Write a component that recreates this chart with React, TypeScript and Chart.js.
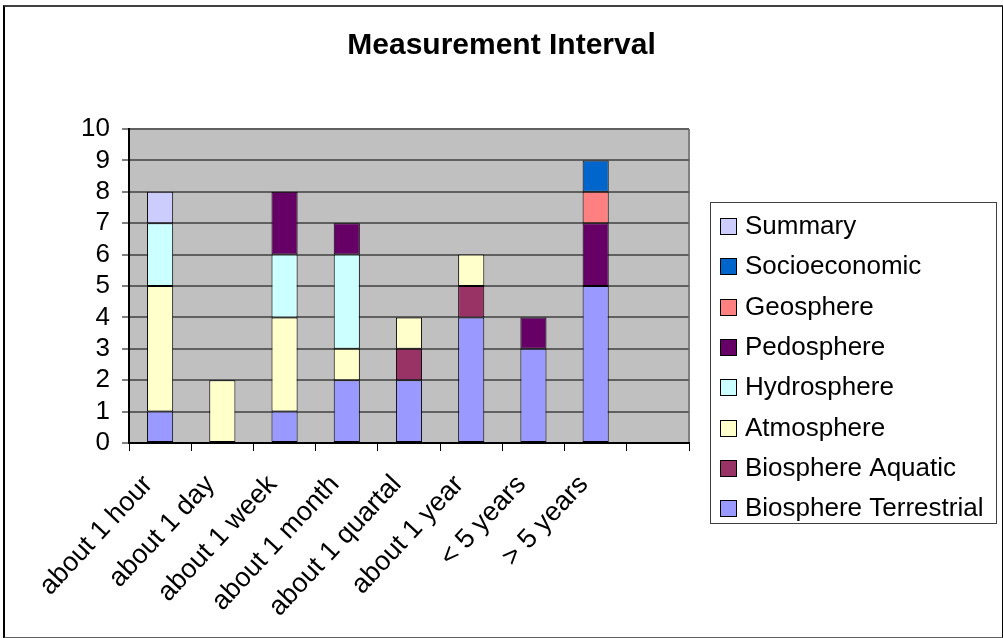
import React, { useEffect, useRef } from "react";
import { Chart, registerables } from "chart.js";

Chart.register(...registerables);

// Measurement interval categories (last slot is an empty category)
const categories = [
  "about 1 hour",
  "about 1 day",
  "about 1 week",
  "about 1 month",
  "about 1 quartal",
  "about 1 year",
  "< 5 years",
  "> 5 years",
  "",
];

const seriesNames = [
  "Biosphere Terrestrial",
  "Biosphere Aquatic",
  "Atmosphere",
  "Hydrosphere",
  "Pedosphere",
  "Geosphere",
  "Socioeconomic",
  "Summary",
];

const biosphereTerrestrial = [1, 0, 1, 2, 2, 4, 3, 5, 0];
const biosphereAquatic = [0, 0, 0, 0, 1, 1, 0, 0, 0];
const atmosphere = [4, 2, 3, 1, 1, 1, 0, 0, 0];
const hydrosphere = [2, 0, 2, 3, 0, 0, 0, 0, 0];
const pedosphere = [0, 0, 2, 1, 0, 0, 1, 2, 0];
const geosphere = [0, 0, 0, 0, 0, 0, 0, 1, 0];
const socioeconomic = [0, 0, 0, 0, 0, 0, 0, 1, 0];
const summary = [1, 0, 0, 0, 0, 0, 0, 0, 0];

const seriesValues = [
  biosphereTerrestrial,
  biosphereAquatic,
  atmosphere,
  hydrosphere,
  pedosphere,
  geosphere,
  socioeconomic,
  summary,
];

const seriesColors = [
  "#9999FF",
  "#993366",
  "#FFFFCC",
  "#CCFFFF",
  "#660066",
  "#FF8080",
  "#0066CC",
  "#CCCCFF",
];

const yTicks = [0, 1, 2, 3, 4, 5, 6, 7, 8, 9, 10];

const FONT = "'Liberation Sans', Arial, sans-serif";

// Grey plot background with a thin grey frame on the right
const plotBackground = {
  id: "plotBackground",
  beforeDraw(chart: any) {
    const { ctx, chartArea } = chart;
    ctx.save();
    ctx.fillStyle = "#C0C0C0";
    ctx.fillRect(chartArea.left, chartArea.top, chartArea.right - chartArea.left, chartArea.bottom - chartArea.top);
    ctx.strokeStyle = "#808080";
    ctx.lineWidth = 2;
    ctx.beginPath();
    ctx.moveTo(chartArea.right, chartArea.top);
    ctx.lineTo(chartArea.right, chartArea.bottom);
    ctx.stroke();
    ctx.restore();
  },
};

// Boxed legend on the right, listed top series first
const boxedLegend = {
  id: "boxedLegend",
  afterDraw(chart: any) {
    const { ctx } = chart;
    const left = 710;
    const top = 202;
    const width = 286;
    const height = 321;
    ctx.save();
    ctx.fillStyle = "#FFFFFF";
    ctx.fillRect(left, top, width, height);
    ctx.strokeStyle = "#404040";
    ctx.lineWidth = 1;
    ctx.strokeRect(left + 0.5, top + 0.5, width, height);
    const datasets = chart.data.datasets.slice().reverse();
    ctx.font = `26px ${FONT}`;
    ctx.textBaseline = "middle";
    ctx.textAlign = "left";
    datasets.forEach((ds: any, i: number) => {
      const cy = Math.round(226 + i * 40.3);
      ctx.fillStyle = ds.backgroundColor;
      ctx.fillRect(720, cy - 8, 16, 16);
      ctx.strokeStyle = "#000000";
      ctx.strokeRect(720.5, cy - 7.5, 16, 16);
      ctx.fillStyle = "#000000";
      ctx.fillText(ds.label, 745, cy + 1);
    });
    ctx.restore();
  },
};

export default function App() {
  const canvasRef = useRef<HTMLCanvasElement | null>(null);

  useEffect(() => {
    if (!canvasRef.current) return;
    const chart = new Chart(canvasRef.current, {
      type: "bar",
      data: {
        labels: categories,
        datasets: seriesNames.map((name, i) => ({
          label: name,
          data: seriesValues[i].map((v) => (v === 0 ? null : v)),
          backgroundColor: seriesColors[i],
          borderColor: "#000000",
          borderWidth: 1,
          borderSkipped: false,
          categoryPercentage: 1,
          barPercentage: 0.42,
        })),
      },
      options: {
        animation: false,
        responsive: false,
        maintainAspectRatio: false,
        layout: { padding: 0 },
        plugins: {
          legend: { display: false },
          tooltip: { enabled: false },
          title: {
            display: true,
            text: "Measurement Interval",
            color: "#000000",
            font: { family: FONT, size: 30, weight: "bold", lineHeight: 1.2 },
            padding: { top: 28, bottom: 65 },
          },
        },
        scales: {
          x: {
            stacked: true,
            offset: true,
            grid: {
              display: true,
              drawOnChartArea: false,
              drawTicks: true,
              offset: true,
              tickLength: 8,
              tickColor: "#000000",
              tickWidth: 1,
            },
            border: { display: true, color: "#000000", width: 2 },
            ticks: {
              autoSkip: false,
              maxRotation: 47,
              minRotation: 47,
              color: "#000000",
              padding: 18,
              labelOffset: -12,
              font: { family: FONT, size: 27 },
            },
            afterFit(scale: any) {
              scale.height = 195;
            },
          },
          y: {
            stacked: true,
            min: 0,
            max: 10,
            afterBuildTicks(scale: any) {
              scale.ticks = yTicks.map((v) => ({ value: v }));
            },
            grid: {
              color: "#606060",
              lineWidth: 2,
              drawTicks: true,
              tickLength: 7,
              tickColor: "#000000",
              tickWidth: 1,
            },
            border: { display: true, color: "#000000", width: 2 },
            ticks: {
              autoSkip: false,
              color: "#000000",
              padding: 12,
              font: { family: FONT, size: 26 },
            },
            afterFit(scale: any) {
              scale.width = 129;
            },
          },
          // empty right-hand axis reserving the legend's column
          legendSpace: {
            type: "linear",
            position: "right",
            display: true,
            grid: { display: false, drawTicks: false },
            border: { display: false },
            ticks: { display: false },
            afterFit(scale: any) {
              scale.width = 314;
            },
          },
        },
      },
      plugins: [plotBackground, boxedLegend],
    });
    return () => chart.destroy();
  }, []);

  return (
    <div style={{ position: "fixed", left: 0, top: 0, width: 1003, height: 638, background: "#FFFFFF" }}>
      <canvas ref={canvasRef} width={1003} height={638} style={{ position: "absolute", left: 0, top: 0 }} />
      <div
        style={{
          position: "absolute",
          left: 3,
          top: 5,
          width: 997,
          height: 630,
          borderTop: "2px solid #404040",
          borderLeft: "2px solid #000000",
          borderRight: "2px solid #000000",
          borderBottom: "2px solid #606060",
          pointerEvents: "none",
        }}
      />
    </div>
  );
}
